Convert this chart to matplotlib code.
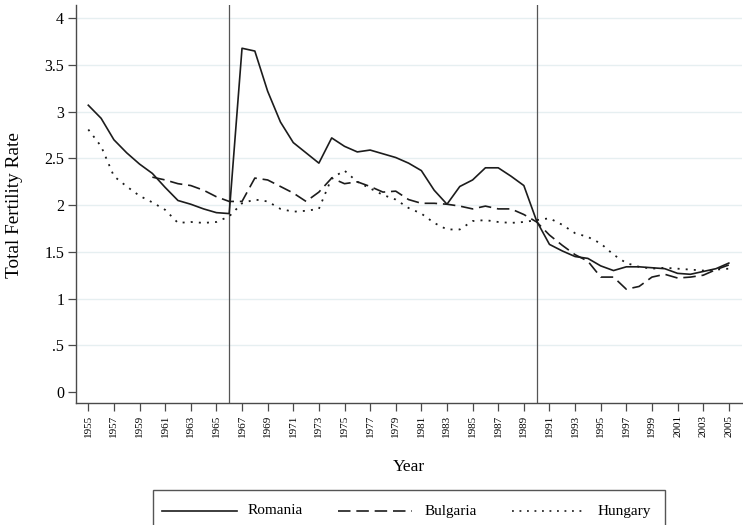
import numpy as np
import matplotlib
matplotlib.use("Agg")
import matplotlib.pyplot as plt
from matplotlib.lines import Line2D
from matplotlib.patches import Rectangle

plt.rcParams["font.family"] = ["Liberation Serif", "DejaVu Serif"]

years = list(range(1955, 2006))
bulgaria_years = list(range(1960, 2006))

romania = [3.07, 2.93, 2.70, 2.56, 2.44, 2.34, 2.19, 2.05, 2.01, 1.96, 1.92, 1.91,
           3.68, 3.65, 3.22, 2.89, 2.67, 2.56, 2.45, 2.72, 2.63, 2.57, 2.59, 2.55,
           2.51, 2.45, 2.37, 2.16, 2.01, 2.20, 2.27, 2.40, 2.40, 2.31, 2.21, 1.83,
           1.58, 1.51, 1.45, 1.43, 1.35, 1.30, 1.34, 1.34, 1.33, 1.32, 1.27, 1.26,
           1.29, 1.32, 1.38]

bulgaria = [2.30, 2.27, 2.23, 2.21, 2.16, 2.09, 2.04, 2.04, 2.29, 2.27, 2.20, 2.13,
            2.04, 2.14, 2.29, 2.23, 2.25, 2.20, 2.14, 2.15, 2.06, 2.02, 2.02, 2.01,
            1.99, 1.96, 1.99, 1.96, 1.96, 1.90, 1.82, 1.68, 1.57, 1.47, 1.40, 1.23,
            1.23, 1.10, 1.13, 1.23, 1.26, 1.22, 1.23, 1.25, 1.31, 1.36]

hungary = [2.81, 2.63, 2.31, 2.20, 2.10, 2.03, 1.95, 1.81, 1.82, 1.81, 1.82, 1.88,
           2.02, 2.06, 2.04, 1.96, 1.93, 1.94, 1.96, 2.29, 2.37, 2.25, 2.18, 2.11,
           2.06, 1.97, 1.91, 1.81, 1.74, 1.74, 1.83, 1.84, 1.82, 1.81, 1.82, 1.84,
           1.86, 1.79, 1.70, 1.66, 1.59, 1.47, 1.38, 1.34, 1.32, 1.33, 1.32, 1.31,
           1.30, 1.31, 1.32]

break_years = [1966, 1990]
y_ticks = [0, 0.5, 1, 1.5, 2, 2.5, 3, 3.5, 4]
y_tick_labels = ["0", ".5", "1", "1.5", "2", "2.5", "3", "3.5", "4"]
x_ticks = list(range(1955, 2006, 2))

line_color = "#1c1c1c"
axis_color = "#4a4a4a"
dash_style = (0, (7.5, 3.5))
dot_style = (0, (1.1, 3.4))

W, H = 743, 525
fig = plt.figure(figsize=(W / 100, H / 100), dpi=100)
ax = fig.add_axes([76 / W, 122 / H, 666 / W, 398 / H])

for v in y_ticks[1:]:
    ax.axhline(v, color="#e6eff1", lw=1.0, zorder=0)

for b in break_years:
    ax.axvline(b, color="#555555", lw=0.9, zorder=1)

ax.plot(years, romania, color=line_color, lw=1.2, ls="-", zorder=3)
ax.plot(bulgaria_years, bulgaria, color=line_color, lw=1.2, ls=dash_style, zorder=3)
ax.plot(years, hungary, color=line_color, lw=1.3, ls=dot_style, zorder=3)

ax.set_xlim(1954.04, 2006.03)
ax.set_ylim(-0.118, 4.143)

ax.set_yticks(y_ticks)
ax.set_yticklabels(y_tick_labels, fontsize=11.5)
ax.set_xticks(x_ticks)
ax.set_xticklabels([str(y) for y in x_ticks], rotation=90, fontsize=8)

for side in ["top", "right"]:
    ax.spines[side].set_visible(False)
for side in ["left", "bottom"]:
    ax.spines[side].set_color(axis_color)
    ax.spines[side].set_linewidth(1.0)
ax.tick_params(axis="both", color=axis_color, length=5.5, width=0.9, direction="out")
ax.tick_params(axis="y", pad=3)
ax.tick_params(axis="x", pad=3)

fig.text(15 / W, 1 - 205.5 / H, "Total Fertility Rate", rotation=90,
         ha="center", va="center", fontsize=13.9)
fig.text(409 / W, 1 - 467 / H, "Year", ha="center", va="center", fontsize=12.5)

# legend box runs past the bottom edge of the figure
fig.add_artist(Rectangle((152.7 / W, -20 / H), (665 - 152.7) / W, (55) / H,
                         transform=fig.transFigure, fill=False,
                         edgecolor="#555555", lw=1.0))
ly = 1 - 511 / H
entries = [
    ("Romania", "-", 161.7, 236.7, 248),
    ("Bulgaria", dash_style, 338, 412, 425),
    ("Hungary", dot_style, 512, 584, 598),
]
for label, style, x0, x1, tx in entries:
    fig.add_artist(Line2D([x0 / W, x1 / W], [ly, ly], transform=fig.transFigure,
                          color=line_color, lw=1.2, ls=style))
    fig.text(tx / W, ly, label, ha="left", va="center", fontsize=11)

fig.savefig("out.png", dpi=100)
